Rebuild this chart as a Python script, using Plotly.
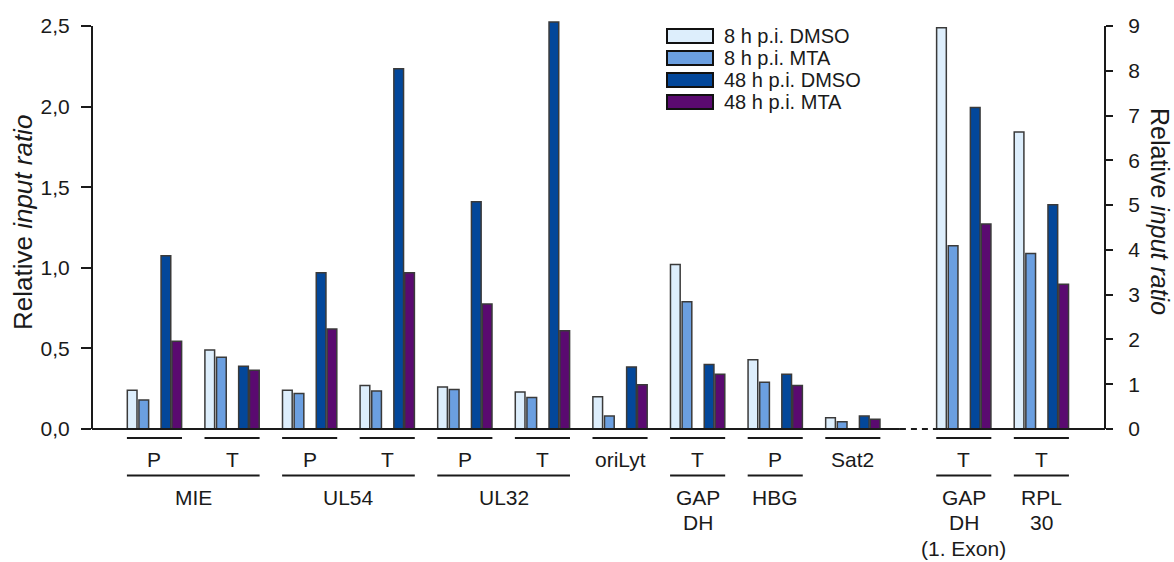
import plotly.graph_objects as go

# ---------------- data ----------------
site_labels = ["P", "T", "P", "T", "P", "T", "oriLyt", "T", "P", "Sat2", "T", "T"]
gene_labels = ["MIE", "UL54", "UL32", "GAP<br>DH", "HBG", "GAP<br>DH<br>(1. Exon)", "RPL<br>30"]
gene_spans = [(0, 1), (2, 3), (4, 5), (7, 7), (8, 8), (10, 10), (11, 11)]
series_names = ["8 h p.i. DMSO", "8 h p.i. MTA", "48 h p.i. DMSO", "48 h p.i. MTA"]

# left axis (first 10 sites)
dmso_8h = [0.24, 0.49, 0.24, 0.27, 0.26, 0.23, 0.20, 1.02, 0.43, 0.07]
mta_8h = [0.18, 0.445, 0.22, 0.235, 0.245, 0.195, 0.08, 0.79, 0.29, 0.045]
dmso_48h = [1.075, 0.39, 0.97, 2.235, 1.41, 2.525, 0.385, 0.40, 0.34, 0.08]
mta_48h = [0.545, 0.365, 0.62, 0.97, 0.775, 0.61, 0.275, 0.34, 0.27, 0.06]

# right axis (GAPDH 1. Exon, RPL30)
dmso_8h_right = [8.96, 6.63]
mta_8h_right = [4.09, 3.92]
dmso_48h_right = [7.18, 5.01]
mta_48h_right = [4.58, 3.23]

left_ticks = [0, 0.5, 1.0, 1.5, 2.0, 2.5]
right_ticks = [0, 1, 2, 3, 4, 5, 6, 7, 8, 9]

# ---------------- style / layout constants ----------------
colors = ["#DDEEFC", "#6B9FE0", "#03479A", "#5A0A70"]
bar_offsets = [-0.35, -0.2, 0.085, 0.225]
bar_width = 0.125
FONT = "Liberation Sans, Arial, sans-serif"
TXT = "#1a1a1a"

W, H = 1174, 562
ML, MR, MT, MB = 92, 69, 16, 133
PW, PH = W - ML - MR, H - MT - MB
BREAK_GAP = 0.43
X0, X1 = -0.805, 12.25
Y_LEFT_MAX = 2.562
Y_RIGHT_MAX = Y_LEFT_MAX * 9 / 2.5

site_pos = [i + (BREAK_GAP if i >= 10 else 0) for i in range(len(site_labels))]
n_left = len(dmso_8h)


def xp(x):  # data x -> paper
    return (x - X0) / (X1 - X0)


def pxx(p):  # pixel x -> paper
    return (p - ML) / PW


def pxy(p):  # pixel y -> paper
    return (MT + PH - p) / PH


fig = go.Figure()

left_series = [dmso_8h, mta_8h, dmso_48h, mta_48h]
right_series = [dmso_8h_right, mta_8h_right, dmso_48h_right, mta_48h_right]

for k, name in enumerate(series_names):
    fig.add_trace(go.Bar(
        x=site_pos[:n_left], y=left_series[k], name=name,
        offset=bar_offsets[k], width=bar_width,
        marker=dict(color=colors[k], line=dict(color="#3a3a3a", width=1.5)),
        showlegend=False, yaxis="y",
    ))
    fig.add_trace(go.Bar(
        x=site_pos[n_left:], y=right_series[k], name=name,
        offset=bar_offsets[k], width=bar_width,
        marker=dict(color=colors[k], line=dict(color="#3a3a3a", width=1.5)),
        showlegend=False, yaxis="y2",
    ))

shapes = []
annotations = []

# axis lines
lw = 2
shapes.append(dict(type="line", xref="paper", yref="paper", x0=0, x1=0,
                   y0=0, y1=2.5 / Y_LEFT_MAX, line=dict(color=TXT, width=lw)))
shapes.append(dict(type="line", xref="paper", yref="paper", x0=1, x1=1,
                   y0=0, y1=9 / Y_RIGHT_MAX, line=dict(color=TXT, width=lw)))
brk_a, brk_b = 9.607, 10.11
shapes.append(dict(type="line", xref="paper", yref="paper", x0=0, x1=xp(brk_a),
                   y0=0, y1=0, line=dict(color=TXT, width=lw)))
shapes.append(dict(type="line", xref="paper", yref="paper", x0=xp(brk_a), x1=xp(brk_b),
                   y0=0, y1=0, line=dict(color=TXT, width=lw, dash="6px,5px")))
shapes.append(dict(type="line", xref="paper", yref="paper", x0=xp(brk_b), x1=1,
                   y0=0, y1=0, line=dict(color=TXT, width=lw)))

# site underlines and labels
half = 0.355
for pos, lab in zip(site_pos, site_labels):
    shapes.append(dict(type="line", xref="paper", yref="paper",
                       x0=xp(pos - half), x1=xp(pos + half), y0=pxy(438), y1=pxy(438),
                       line=dict(color=TXT, width=2)))
    annotations.append(dict(text=lab, xref="paper", yref="paper", x=xp(pos), y=pxy(459.5),
                            xanchor="center", yanchor="middle", showarrow=False,
                            font=dict(family=FONT, size=21, color=TXT)))

# gene lines and labels (one annotation per text line)
for lab, (a, b) in zip(gene_labels, gene_spans):
    pa, pb = site_pos[a], site_pos[b]
    shapes.append(dict(type="line", xref="paper", yref="paper",
                       x0=xp(pa - half), x1=xp(pb + half), y0=pxy(475.5), y1=pxy(475.5),
                       line=dict(color=TXT, width=2)))
    for j, part in enumerate(lab.split("<br>")):
        annotations.append(dict(text=part, xref="paper", yref="paper", x=xp((pa + pb) / 2),
                                y=pxy(497 + 25.5 * j), xanchor="center", yanchor="middle",
                                showarrow=False,
                                font=dict(family=FONT, size=21, color=TXT)))

# axis titles
annotations.append(dict(text="Relative <i>input ratio</i>", xref="paper", yref="paper",
                        x=pxx(23), y=pxy(223), xanchor="center", yanchor="middle",
                        textangle=-90, showarrow=False,
                        font=dict(family=FONT, size=26, color=TXT)))
annotations.append(dict(text="Relative <i>input ratio</i>", xref="paper", yref="paper",
                        x=pxx(1160), y=pxy(211), xanchor="center", yanchor="middle",
                        textangle=90, showarrow=False,
                        font=dict(family=FONT, size=25, color=TXT)))

# custom legend
for k, name in enumerate(series_names):
    cy = 36 + 22 * k
    shapes.append(dict(type="rect", xref="paper", yref="paper",
                       x0=pxx(667), x1=pxx(713), y0=pxy(cy - 7), y1=pxy(cy + 7),
                       fillcolor=colors[k], line=dict(color="#111111", width=2)))
    annotations.append(dict(text=name, xref="paper", yref="paper", x=pxx(722), y=pxy(cy),
                            xanchor="left", yanchor="middle", showarrow=False,
                            font=dict(family=FONT, size=20, color=TXT)))

fig.update_layout(
    width=W, height=H,
    margin=dict(l=ML, r=MR, t=MT, b=MB, pad=0),
    paper_bgcolor="white", plot_bgcolor="white",
    barmode="overlay",
    separators=",.",
    showlegend=False,
    font=dict(family=FONT, color=TXT),
    xaxis=dict(range=[X0, X1], showline=False, showticklabels=False, ticks="",
               showgrid=False, zeroline=False),
    yaxis=dict(range=[0, Y_LEFT_MAX], tickvals=left_ticks, tickformat=".1f",
               ticks="outside", ticklen=10, tickwidth=2, tickcolor=TXT,
               showline=False, showgrid=False, zeroline=False,
               ticklabelstandoff=7, automargin=False,
               tickfont=dict(family=FONT, size=21, color=TXT)),
    yaxis2=dict(range=[0, Y_RIGHT_MAX], tickvals=right_ticks, overlaying="y", side="right",
                ticks="outside", ticklen=7, tickwidth=2, tickcolor=TXT,
                showline=False, showgrid=False, zeroline=False,
                ticklabelstandoff=11, automargin=False,
                tickfont=dict(family=FONT, size=21, color=TXT)),
    shapes=shapes,
    annotations=annotations,
)

fig.write_html("out.html", config={"displayModeBar": False},
               post_script="document.body.style.margin='0';")
